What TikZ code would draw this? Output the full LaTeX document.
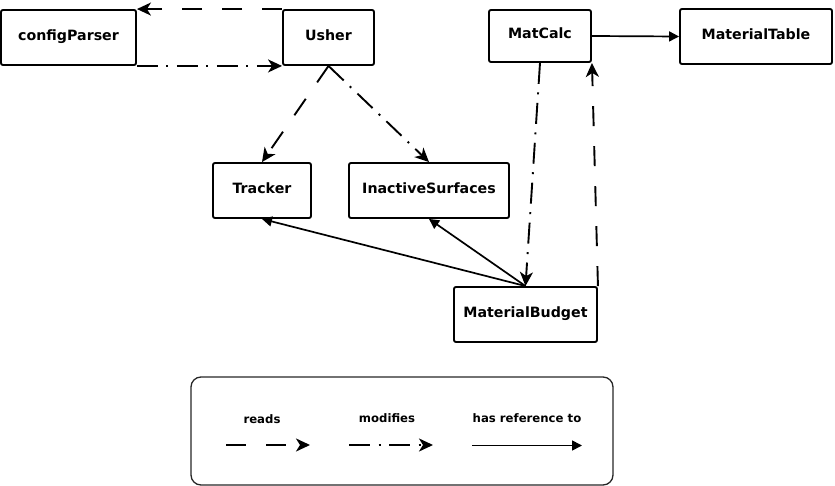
\documentclass[tikz,border=0pt]{standalone}
\usepackage{fontspec}
\setmainfont{DejaVu Sans}
\usetikzlibrary{arrows.meta}
\tikzset{
  cls/.style={draw=black, line width=1.9pt, rounded corners=2pt, fill=white,
    font=\fontsize{14.2}{17}\selectfont\bfseries, text height=10.2pt, text depth=5pt,
    inner sep=0pt},
  readsline/.style={line width=1.9pt, dash pattern=on 20pt off 20pt,
    -{Stealth[length=14pt,width=13pt,inset=4pt]}},
  modline/.style={line width=1.9pt, dash pattern=on 21pt off 8.5pt on 2pt off 8.5pt,
    -{Stealth[length=14pt,width=13pt,inset=4pt]}},
  refline/.style={line width=1.7pt, -{Triangle[length=10pt,width=10pt]}},
  legtext/.style={font=\fontsize{11.7}{14}\selectfont\bfseries, inner sep=0pt},
}
\begin{document}
\begin{tikzpicture}[x=1pt,y=-1pt]
\useasboundingbox (0,0) rectangle (835,486);
\node[cls, minimum width=135pt, minimum height=55pt] (cp) at (68.5,37.5) {configParser};
\node[cls, minimum width=91pt, minimum height=55pt] (usher) at (328.5,37.5) {Usher};
\node[cls, minimum width=102pt, minimum height=52pt] (matcalc) at (540,36) {MatCalc};
\node[cls, minimum width=152pt, minimum height=55pt] (mtable) at (756,36.5) {MaterialTable};
\node[cls, minimum width=98pt, minimum height=55pt] (tracker) at (262,190.5) {Tracker};
\node[cls, minimum width=160pt, minimum height=55pt] (inactive) at (429,190.5) {InactiveSurfaces};
\node[cls, minimum width=143pt, minimum height=55pt] (mb) at (525.5,314.5) {MaterialBudget};

\draw[readsline] (usher.north west) -- (cp.north east);
\draw[modline] (cp.south east) -- (usher.south west);
\draw[readsline] (usher.south) -- (tracker.north);
\draw[modline] (usher.south) -- (inactive.north);
\draw[modline] (matcalc.south) -- (mb.north);
\draw[readsline] (mb.north east) -- (matcalc.south east);
\draw[refline] (matcalc.east) -- (mtable.west);
\draw[refline] (mb.north) -- (tracker.south);
\draw[refline] (mb.north) -- (inactive.south);

% legend
\node[draw=black!85, line width=1.3pt, rounded corners=10pt, minimum width=422pt,
  minimum height=108pt, inner sep=0pt] (legend) at (402,431) {};
\node[legtext] (lreads) at (262,419) {reads};
\node[legtext] (lmod) at (387,418) {modifies};
\node[legtext] (lref) at (527,418) {has reference to};
\coordinate (r1) at (226,445);
\coordinate (r2) at (310,445);
\coordinate (m1) at (349,445);
\coordinate (m2) at (433,445);
\coordinate (h1) at (472,445.5);
\coordinate (h2) at (582,445.5);
\draw[readsline] (r1) -- (r2);
\draw[modline] (m1) -- (m2);
\draw[refline] (h1) -- (h2);
\end{tikzpicture}
\end{document}
